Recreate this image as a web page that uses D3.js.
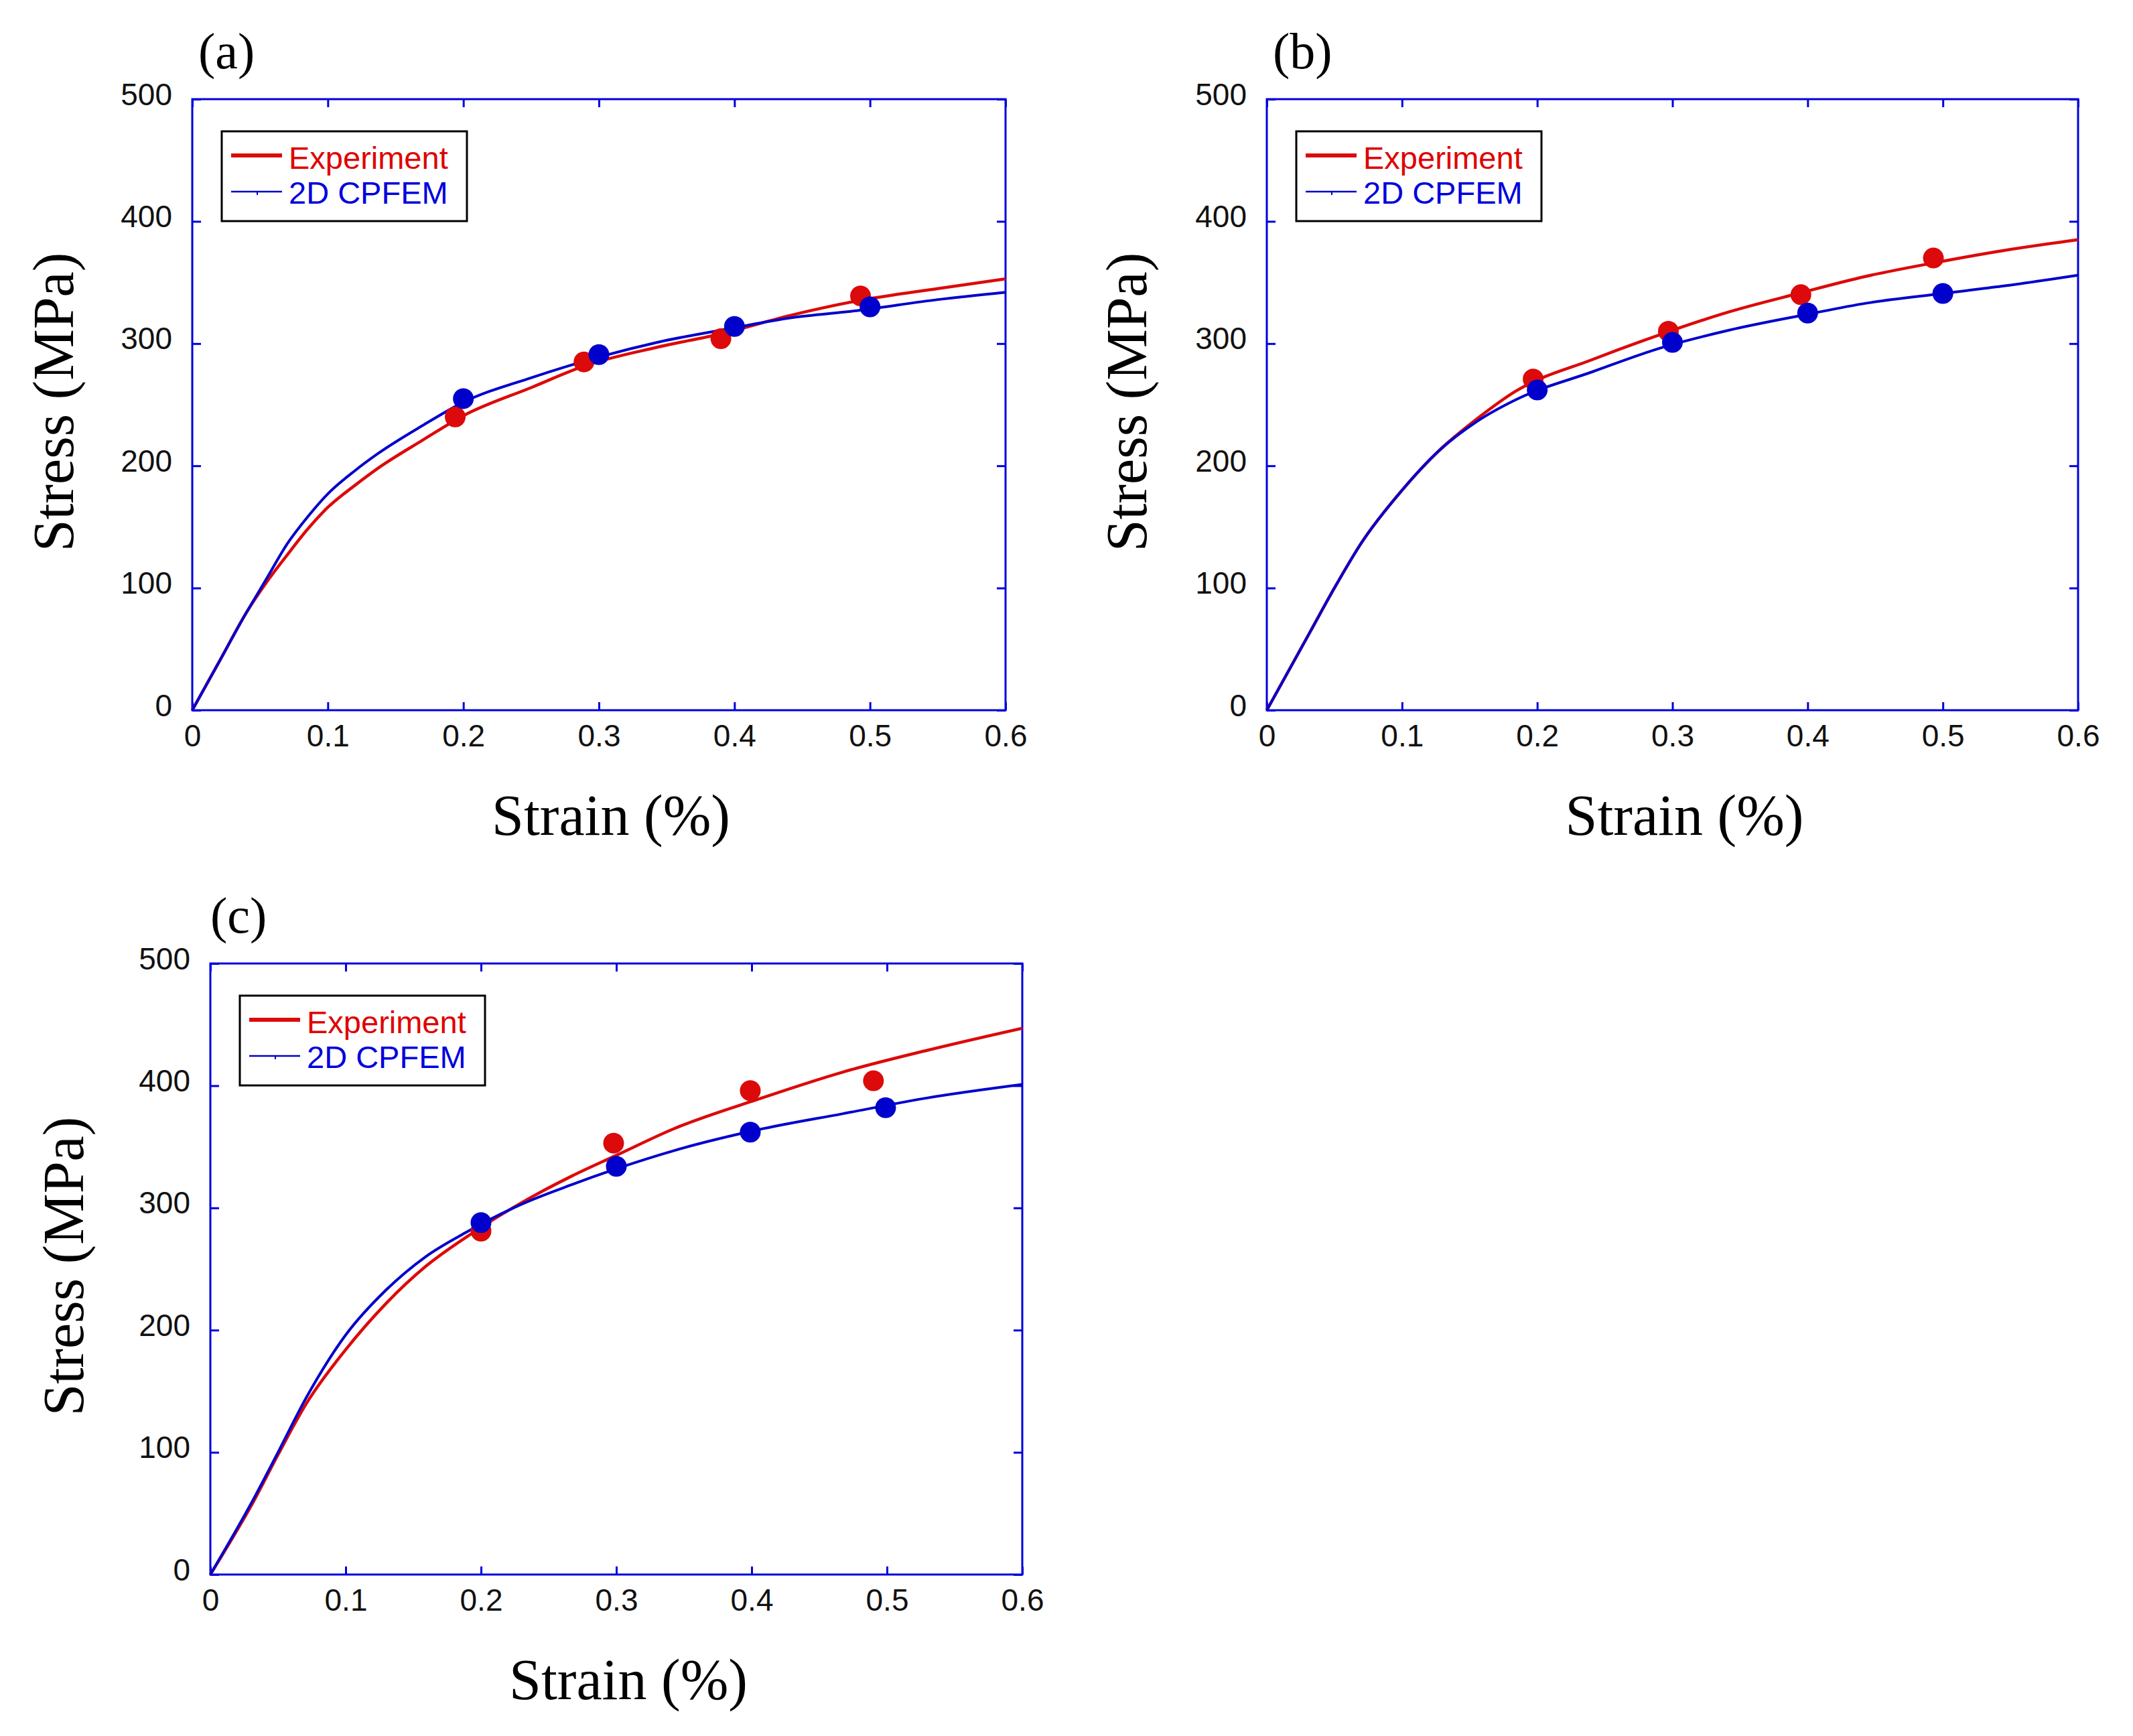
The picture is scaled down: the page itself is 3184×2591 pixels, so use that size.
<!DOCTYPE html>
<html><head><meta charset="utf-8">
<script src="https://cdn.jsdelivr.net/npm/d3@7"></script>
<style>body{margin:0;background:#fff}</style>
</head><body>
<script>
// ---------- data ----------
const strainTicks = [0, 0.1, 0.2, 0.3, 0.4, 0.5, 0.6];
const stressTicks = [0, 100, 200, 300, 400, 500];
const seriesNames = ["Experiment", "2D CPFEM"];
const panelLabels = ["(a)", "(b)", "(c)"];

// Panel (a)
const expCurveA = [[0,0],[0.02,40],[0.04,80],[0.055,105],[0.07,127],[0.085,148],[0.1,166],[0.12,184],[0.137,198],[0.17,221],[0.2,241],[0.25,264],[0.29,282],[0.343,297],[0.39,308],[0.441,323],[0.491,335],[0.55,345],[0.6,353]];
const simCurveA = [[0,0],[0.02,40],[0.04,80],[0.055,108],[0.07,136],[0.085,158],[0.1,177],[0.12,196],[0.137,210],[0.17,233],[0.2,252],[0.25,272],[0.3,289],[0.343,301],[0.4,313],[0.441,321],[0.491,327],[0.55,336],[0.6,342]];
const expPtsA = [[0.194,240],[0.289,285],[0.390,304],[0.493,339]];
const simPtsA = [[0.2,255],[0.3,291],[0.4,314],[0.5,330]];

// Panel (b)
const expCurveB = [[0,0],[0.032,64],[0.05,100],[0.07,137],[0.1,180],[0.127,212],[0.155,238],[0.184,261],[0.241,287],[0.29,307],[0.342,326],[0.393,341],[0.443,355],[0.493,366],[0.544,376],[0.6,385]];
const simCurveB = [[0,0],[0.032,64],[0.05,100],[0.07,137],[0.1,180],[0.127,212],[0.155,236],[0.184,254],[0.241,277],[0.29,296],[0.342,311],[0.4,324],[0.443,333],[0.5,341],[0.544,347],[0.6,356]];
const expPtsB = [[0.197,271],[0.297,310],[0.395,340],[0.493,370]];
const simPtsB = [[0.2,262],[0.3,301],[0.4,325],[0.5,341]];

// Panel (c)
const expCurveC = [[0,0],[0.032,60],[0.05,98],[0.071,140],[0.1,184],[0.13,222],[0.159,252],[0.189,276],[0.228,303],[0.267,326],[0.3,343],[0.343,365],[0.405,389],[0.467,411],[0.53,429],[0.6,447]];
const simCurveC = [[0,0],[0.032,62],[0.05,100],[0.071,145],[0.1,196],[0.13,233],[0.159,260],[0.189,280],[0.228,302],[0.267,319],[0.3,332],[0.343,347],[0.405,364],[0.467,377],[0.53,390],[0.6,401]];
const expPtsC = [[0.2,281],[0.298,353],[0.399,396],[0.49,404]];
const simPtsC = [[0.2,288],[0.3,334],[0.399,362],[0.499,382]];

// ---------- layout ----------
const W = 3184, H = 2591;
const RED = "#dc0a0a", BLUE = "#0000cc", AXIS = "#0000dd";
const panels = [
  {label: panelLabels[0], x0: 287, x1: 1501, yb: 1060, yt: 148, exp: expCurveA, sim: simCurveA, ep: expPtsA, sp: simPtsA, ylOff: 178, lbOff: 9},
  {label: panelLabels[1], x0: 1891, x1: 3102, yb: 1060, yt: 148, exp: expCurveB, sim: simCurveB, ep: expPtsB, sp: simPtsB, ylOff: 180, lbOff: 9},
  {label: panelLabels[2], x0: 314, x1: 1526, yb: 2350, yt: 1438, exp: expCurveC, sim: simCurveC, ep: expPtsC, sp: simPtsC, ylOff: 190, lbOff: 0}
];

const svg = d3.select("body").append("svg").attr("width", W).attr("height", H)
  .style("background", "#fff");
svg.append("rect").attr("width", W).attr("height", H).attr("fill", "#fff");

const SANS = "'Liberation Sans', Arial, sans-serif";
const SERIF = "'Liberation Serif', 'Times New Roman', serif";

panels.forEach(p => {
  const x = d3.scaleLinear().domain([0, 0.6]).range([p.x0, p.x1]);
  const y = d3.scaleLinear().domain([0, 500]).range([p.yb, p.yt]);
  const g = svg.append("g");

  const styleAxis = sel => {
    sel.select(".domain").remove();
    sel.selectAll(".tick line").attr("stroke", AXIS).attr("stroke-width", 3);
    sel.selectAll("text").attr("fill", "#111").style("font-family", SANS).style("font-size", "46px");
  };
  const bottom = g.append("g").attr("transform", `translate(0,${p.yb})`)
    .call(d3.axisBottom(x).tickValues(strainTicks).tickSize(-12).tickPadding(21).tickFormat(d3.format("")))
    .call(styleAxis);
  bottom.selectAll("text").attr("y", 54).attr("dy", null);
  g.append("g").attr("transform", `translate(0,${p.yt})`)
    .call(d3.axisTop(x).tickValues(strainTicks).tickSize(-12).tickFormat(""))
    .call(styleAxis);
  const left = g.append("g").attr("transform", `translate(${p.x0},0)`)
    .call(d3.axisLeft(y).tickValues(stressTicks).tickSize(-13).tickPadding(30).tickFormat(d3.format("d")))
    .call(styleAxis);
  left.selectAll("text").attr("x", -30).attr("y", -8).attr("dy", "0.35em").attr("text-anchor", "end");
  g.append("g").attr("transform", `translate(${p.x1},0)`)
    .call(d3.axisRight(y).tickValues(stressTicks).tickSize(-13).tickFormat(""))
    .call(styleAxis);

  g.append("rect").attr("x", p.x0).attr("y", p.yt).attr("width", p.x1 - p.x0).attr("height", p.yb - p.yt)
    .attr("fill", "none").attr("stroke", AXIS).attr("stroke-width", 3);

  const line = d3.line().x(d => x(d[0])).y(d => y(d[1])).curve(d3.curveMonotoneX);
  g.append("path").datum(p.exp).attr("d", line).attr("fill", "none").attr("stroke", RED).attr("stroke-width", 4.5);
  g.append("path").datum(p.sim).attr("d", line).attr("fill", "none").attr("stroke", BLUE).attr("stroke-width", 4);
  g.selectAll(".ep").data(p.ep).enter().append("circle")
    .attr("cx", d => x(d[0])).attr("cy", d => y(d[1])).attr("r", 15.5).attr("fill", RED);
  g.selectAll(".sp").data(p.sp).enter().append("circle")
    .attr("cx", d => x(d[0])).attr("cy", d => y(d[1])).attr("r", 15.5).attr("fill", BLUE);

  const lx = p.x0 + 44, ly = p.yt + 48, lw = 366, lh = 134;
  const lg = g.append("g");
  lg.append("rect").attr("x", lx).attr("y", ly).attr("width", lw).attr("height", lh)
    .attr("fill", "#fff").attr("stroke", "#000").attr("stroke-width", 3);
  lg.append("line").attr("x1", lx + 14).attr("x2", lx + 90).attr("y1", ly + 36).attr("y2", ly + 36)
    .attr("stroke", RED).attr("stroke-width", 6);
  lg.append("line").attr("x1", lx + 14).attr("x2", lx + 90).attr("y1", ly + 90).attr("y2", ly + 90)
    .attr("stroke", BLUE).attr("stroke-width", 2.5);
  lg.append("line").attr("x1", lx + 53).attr("x2", lx + 53).attr("y1", ly + 90).attr("y2", ly + 95)
    .attr("stroke", BLUE).attr("stroke-width", 2);
  lg.append("text").attr("x", lx + 100).attr("y", ly + 56).text(seriesNames[0])
    .attr("fill", "#e00000").style("font-family", SANS).style("font-size", "47px");
  lg.append("text").attr("x", lx + 100).attr("y", ly + 108).text(seriesNames[1])
    .attr("fill", "#0000dd").style("font-family", SANS).style("font-size", "47px");

  g.append("text").attr("x", (p.x0 + p.x1) / 2 + 18).attr("y", p.yb + 186)
    .attr("text-anchor", "middle").style("font-family", SERIF).style("font-size", "86px")
    .attr("fill", "#000").text("Strain (%)");
  g.append("text").attr("transform", `translate(${p.x0 - p.ylOff},${(p.yt + p.yb) / 2 - 4}) rotate(-90)`)
    .attr("text-anchor", "middle").style("font-family", SERIF).style("font-size", "86px")
    .attr("fill", "#000").text("Stress (MPa)");
  g.append("text").attr("x", p.x0 + p.lbOff).attr("y", p.yt - 46)
    .style("font-family", SERIF).style("font-size", "76px").attr("fill", "#000").text(p.label);
});
</script>
</body></html>
